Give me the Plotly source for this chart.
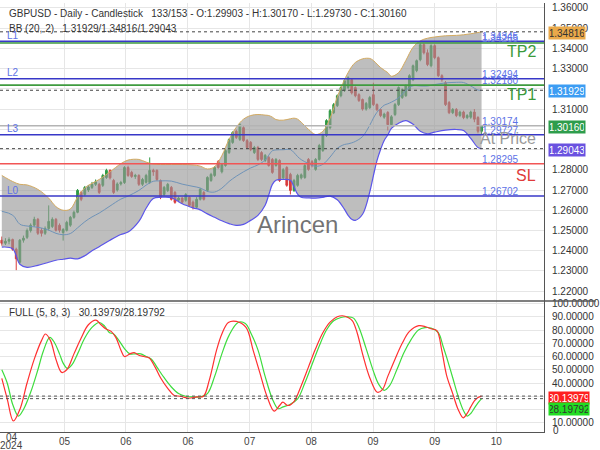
import plotly.graph_objects as go
from plotly.subplots import make_subplots

NARROW = "Liberation Sans Narrow, Arial Narrow, Liberation Sans, Arial, sans-serif"

# ---------------- candle data (daily GBPUSD) ----------------
bar_index = list(range(134))
opens = [1.2452, 1.2437, 1.2447, 1.2455, 1.2407, 1.2343, 1.2452, 1.2466, 1.2500, 1.2526,
         1.2555, 1.2501, 1.2486, 1.2510, 1.2520, 1.2555, 1.2526, 1.2490, 1.2501, 1.2526,
         1.2565, 1.2590, 1.2688, 1.2678, 1.2700, 1.2713, 1.2728, 1.2728, 1.2723, 1.2762,
         1.2797, 1.2747, 1.2700, 1.2730, 1.2737, 1.2811, 1.2787, 1.2767, 1.2772, 1.2728,
         1.2738, 1.2737, 1.2797, 1.2797, 1.2747, 1.2678, 1.2698, 1.2713, 1.2688, 1.2650,
         1.2660, 1.2649, 1.2664, 1.2640, 1.2615, 1.2654, 1.2688, 1.2698, 1.2747, 1.2772,
         1.2840, 1.2790, 1.2821, 1.2885, 1.2935, 1.2990, 1.2950, 1.3008, 1.2944, 1.2935,
         1.2885, 1.2910, 1.2885, 1.2846, 1.2861, 1.2851, 1.2821, 1.2846, 1.2760, 1.2811,
         1.2777, 1.2698, 1.2723, 1.2760, 1.2762, 1.2851, 1.2840, 1.2802, 1.2851, 1.2895,
         1.2970, 1.3008, 1.3082, 1.3117, 1.3166, 1.3191, 1.3206, 1.3245, 1.3206, 1.3171,
         1.3147, 1.3100, 1.3107, 1.3171, 1.3122, 1.3097, 1.3060, 1.3083, 1.3023, 1.3073,
         1.3122, 1.3157, 1.3166, 1.3196, 1.3245, 1.3290, 1.3344, 1.3418, 1.3378, 1.3314,
         1.3413, 1.3354, 1.3265, 1.3230, 1.3132, 1.3082, 1.3098, 1.3068, 1.3085, 1.3058,
         1.3060, 1.3085, 1.3058, 1.29903]
highs = [1.2470, 1.2462, 1.2466, 1.2460, 1.2415, 1.2458, 1.2475, 1.2510, 1.2535, 1.2568,
         1.2562, 1.2512, 1.2520, 1.2624, 1.2565, 1.2562, 1.2535, 1.2512, 1.2548, 1.2572,
         1.2598, 1.2705, 1.2695, 1.2720, 1.2725, 1.2740, 1.2752, 1.2735, 1.2780, 1.2805,
         1.2802, 1.2755, 1.2738, 1.2745, 1.2818, 1.2820, 1.2795, 1.2780, 1.2778, 1.2760,
         1.2780, 1.2861, 1.2805, 1.2802, 1.2752, 1.2720, 1.2735, 1.2720, 1.2695, 1.2668,
         1.2665, 1.2685, 1.2670, 1.2648, 1.2665, 1.2710, 1.2695, 1.2768, 1.2785, 1.2818,
         1.2848, 1.2832, 1.2902, 1.2955, 1.2990, 1.2998, 1.3030, 1.3018, 1.2952, 1.2942,
         1.2918, 1.2918, 1.2892, 1.2878, 1.2868, 1.2858, 1.2858, 1.2852, 1.2808, 1.2818,
         1.2785, 1.2755, 1.2780, 1.2782, 1.2828, 1.2858, 1.2848, 1.2858, 1.2928, 1.2978,
         1.3050, 1.3100, 1.3130, 1.3172, 1.3212, 1.3248, 1.3262, 1.3252, 1.3212, 1.3178,
         1.3152, 1.3135, 1.3165, 1.3230, 1.3128, 1.3102, 1.3082, 1.3090, 1.3070, 1.3130,
         1.3212, 1.3202, 1.3222, 1.3272, 1.3320, 1.3345, 1.3425, 1.3425, 1.3395, 1.3420,
         1.3420, 1.3360, 1.3272, 1.3238, 1.3140, 1.3105, 1.3105, 1.3092, 1.3092, 1.3075,
         1.3092, 1.3100, 1.3065, 1.30170]
lows = [1.2425, 1.2428, 1.2432, 1.2400, 1.2304, 1.2335, 1.2440, 1.2458, 1.2490, 1.2518,
        1.2478, 1.2470, 1.2478, 1.2500, 1.2512, 1.2495, 1.2490, 1.2450, 1.2495, 1.2518,
        1.2558, 1.2585, 1.2645, 1.2670, 1.2690, 1.2705, 1.2720, 1.2680, 1.2715, 1.2755,
        1.2752, 1.2680, 1.2692, 1.2722, 1.2730, 1.2765, 1.2760, 1.2755, 1.2720, 1.2720,
        1.2732, 1.2730, 1.2770, 1.2745, 1.2655, 1.2670, 1.2690, 1.2648, 1.2632, 1.2640,
        1.2632, 1.2642, 1.2618, 1.2604, 1.2610, 1.2648, 1.2648, 1.2690, 1.2740, 1.2765,
        1.2805, 1.2782, 1.2815, 1.2878, 1.2928, 1.2952, 1.2942, 1.2938, 1.2902, 1.2892,
        1.2878, 1.2843, 1.2843, 1.2838, 1.2815, 1.2780, 1.2815, 1.2740, 1.2752, 1.2716,
        1.2678, 1.2690, 1.2716, 1.2752, 1.2755, 1.2795, 1.2812, 1.2795, 1.2845, 1.2888,
        1.2962, 1.3000, 1.3075, 1.3110, 1.3158, 1.3185, 1.3200, 1.3172, 1.3158, 1.3135,
        1.3092, 1.3092, 1.3100, 1.3115, 1.3090, 1.3060, 1.3052, 1.2994, 1.3015, 1.3065,
        1.3115, 1.3150, 1.3160, 1.3190, 1.3238, 1.3282, 1.3336, 1.3370, 1.3312, 1.3306,
        1.3346, 1.3258, 1.3235, 1.3115, 1.3075, 1.3075, 1.3060, 1.3060, 1.3050, 1.3050,
        1.3052, 1.3035, 1.2980, 1.29730]
closes = [1.2437, 1.2447, 1.2455, 1.2407, 1.2360, 1.2452, 1.2462, 1.2500, 1.2526, 1.2555,
          1.2486, 1.2486, 1.2510, 1.2545, 1.2555, 1.2501, 1.2501, 1.2505, 1.2540, 1.2565,
          1.2590, 1.2698, 1.2654, 1.2713, 1.2715, 1.2728, 1.2740, 1.2688, 1.2772, 1.2797,
          1.2760, 1.2688, 1.2730, 1.2737, 1.2811, 1.2772, 1.2767, 1.2772, 1.2728, 1.2752,
          1.2772, 1.2797, 1.2790, 1.2752, 1.2664, 1.2713, 1.2728, 1.2654, 1.2639, 1.2660,
          1.2640, 1.2678, 1.2624, 1.2615, 1.2654, 1.2703, 1.2654, 1.2762, 1.2777, 1.2811,
          1.2811, 1.2826, 1.2895, 1.2949, 1.2984, 1.2960, 1.3023, 1.2944, 1.2910, 1.2900,
          1.2910, 1.2851, 1.2851, 1.2871, 1.2821, 1.2787, 1.2851, 1.2747, 1.2800, 1.2723,
          1.2698, 1.2747, 1.2772, 1.2775, 1.2821, 1.2802, 1.2820, 1.2851, 1.2920, 1.2970,
          1.3043, 1.3092, 1.3122, 1.3166, 1.3206, 1.3240, 1.3255, 1.3180, 1.3166, 1.3142,
          1.3100, 1.3128, 1.3157, 1.3122, 1.3097, 1.3068, 1.3075, 1.3023, 1.3062, 1.3122,
          1.3206, 1.3196, 1.3216, 1.3265, 1.3314, 1.3339, 1.3418, 1.3378, 1.3320, 1.3413,
          1.3354, 1.3265, 1.3245, 1.3122, 1.3082, 1.3098, 1.3068, 1.3085, 1.3058, 1.3068,
          1.3085, 1.3050, 1.2990, 1.30160]

# ---------------- Bollinger Bands (20, 2) ----------------
bb_index = [0, 3, 5, 7, 10, 13, 15, 17, 19, 21, 23, 25, 27, 30, 33, 35, 38, 40, 42, 44,
            47, 50, 53, 55, 57, 59, 61, 63, 65, 67, 69, 71, 73, 74, 75, 76, 78, 80, 81, 82,
            83, 85, 87, 89, 91, 93, 95, 96, 97, 98, 100, 102, 103, 104, 105, 106, 107, 108,
            110, 112, 114, 116, 118, 120, 123, 126, 128, 130, 132, 133]
bb_upper = [1.2772, 1.2742, 1.2728, 1.2725, 1.2703, 1.2660, 1.2618, 1.2600, 1.2606, 1.2665,
            1.2710, 1.2733, 1.2752, 1.2790, 1.2830, 1.2848, 1.2851, 1.2838, 1.2828, 1.2826,
            1.2826, 1.2826, 1.2824, 1.2818, 1.2804, 1.2815, 1.2870, 1.2950, 1.3010, 1.3050,
            1.3068, 1.3073, 1.3070, 1.3068, 1.3060, 1.3048, 1.3045, 1.3052, 1.3055, 1.3050,
            1.3035, 1.3000, 1.2974, 1.2990, 1.3055, 1.3160, 1.3245, 1.3280, 1.3310, 1.3330,
            1.3348, 1.3350, 1.3340, 1.3322, 1.3305, 1.3292, 1.3280, 1.3262, 1.3280, 1.3340,
            1.3405, 1.3437, 1.3450, 1.3456, 1.3462, 1.3464, 1.3467, 1.3472, 1.3478, 1.34816]
bb_lower = [1.2418, 1.2410, 1.2333, 1.2318, 1.2328, 1.2343, 1.2353, 1.2358, 1.2363, 1.2360,
            1.2375, 1.2400, 1.2420, 1.2452, 1.2480, 1.2492, 1.2545, 1.2610, 1.2658, 1.2664,
            1.2662, 1.2632, 1.2612, 1.2602, 1.2582, 1.2565, 1.2548, 1.2534, 1.2525, 1.2530,
            1.2550, 1.2575, 1.2625, 1.2675, 1.2728, 1.2748, 1.2752, 1.2748, 1.2715, 1.2680,
            1.2664, 1.2661, 1.2660, 1.2664, 1.2670, 1.2652, 1.2604, 1.2575, 1.2555, 1.2550,
            1.2580, 1.2690, 1.2770, 1.2845, 1.2900, 1.2945, 1.2972, 1.3005, 1.3030, 1.3043,
            1.3025, 1.2990, 1.2978, 1.2986, 1.2996, 1.2999, 1.2994, 1.2955, 1.2910, 1.29043]
bb_mid = [1.2595, 1.2576, 1.2531, 1.2522, 1.2516, 1.2502, 1.2486, 1.2479, 1.2485, 1.2513,
          1.2543, 1.2567, 1.2586, 1.2621, 1.2655, 1.2670, 1.2698, 1.2724, 1.2743, 1.2745,
          1.2744, 1.2729, 1.2718, 1.2710, 1.2693, 1.2690, 1.2709, 1.2742, 1.2768, 1.2790,
          1.2809, 1.2824, 1.2848, 1.2872, 1.2894, 1.2898, 1.2899, 1.2900, 1.2885, 1.2865,
          1.2850, 1.2831, 1.2817, 1.2827, 1.2863, 1.2906, 1.2925, 1.2928, 1.2933, 1.2940,
          1.2964, 1.3020, 1.3055, 1.3084, 1.3103, 1.3119, 1.3126, 1.3134, 1.3155, 1.3192,
          1.3215, 1.3214, 1.3214, 1.3221, 1.3229, 1.3232, 1.3231, 1.3214, 1.3194, 1.31929]

# ---------------- Full stochastic (5, 8, 3) ----------------
stoch_k_index = [0, 1.5, 3.2, 5, 7, 9, 11, 12.1, 13.5, 15, 16.6, 18, 20, 22, 24, 26.1, 27.5, 28.9,
                 30.3, 31.6, 33, 34, 35.5, 36.7, 38, 39.4, 40.8, 42.5, 44, 46, 47.7, 49.5, 51.8,
                 54, 55.9, 57.5, 59.5, 61, 62.8, 65, 67.7, 69.7, 71.5, 73.5, 75.5, 77, 77.9, 79.3,
                 81, 83, 85, 87, 89, 91, 93, 94.4, 96, 97.2, 98.5, 100, 102, 104.1, 105.5, 107,
                 109, 111, 113, 115.6, 117.5, 119, 120.6, 122, 123.3, 125, 126.5, 127.9, 129,
                 130, 131, 132, 133]
stoch_k = [43.5, 28, 11.3, 20, 40, 58, 72, 77, 72, 58, 48, 50, 62, 74, 84, 87.5, 84, 80.8,
           79, 74.5, 65, 60, 62, 63, 61, 60, 59, 52, 44, 36, 30.8, 30, 28.5,
           29.5, 30, 42, 64.5, 77, 85.7, 86.5, 82, 64.5, 48, 30, 18.8, 23, 25.5, 23,
           26, 38, 52, 66, 78, 86, 90, 90.8, 89.5, 87, 78, 62, 44, 33, 35, 45,
           58, 70, 79, 83.3, 82.5, 81, 79.5, 64, 45.8, 32, 20, 13.7, 17,
           22, 26.5, 29, 30.13979]
stoch_d_index = [0, 1.5, 3, 4.6, 6, 8, 10, 11.5, 13.3, 14.5, 16, 17, 18.2, 19.5, 21, 23, 25, 27,
                 28.5, 29.8, 31, 32.5, 34, 35.5, 37, 38.5, 40, 41.5, 43, 45, 47, 49, 51, 53, 55,
                 57, 59, 61, 63, 65.5, 67.5, 69, 71, 73, 75, 76.6, 78, 80, 82, 84, 86, 88, 90,
                 92, 94, 95.8, 97.5, 99, 101, 103, 104.5, 106, 107.5, 109.5, 111.5, 113.5,
                 115.5, 117.3, 119, 121, 122.3, 123.3, 125, 126.5, 128, 129, 130, 131, 132, 133]
stoch_d = [50, 40, 24, 15, 20, 33, 50, 64, 74.5, 71, 62, 55, 51, 54, 62, 74, 82, 85.7,
           83, 78.2, 77, 72, 66, 62, 62, 62, 60, 58, 52, 44, 37, 32, 30, 29.5, 29.5,
           32, 45, 62, 76, 85.7, 85, 78, 65, 45, 28, 20.6, 22, 24, 28, 40, 54, 68, 80,
           87, 89.5, 90, 89, 82, 66, 49, 39, 34.5, 38, 50, 63, 73,
           80, 81.8, 81.5, 78, 68, 59.5, 44, 30, 19, 15, 17, 21, 25, 28.19792]

# ---------------- axis ticks ----------------
x_tick_pos = [17.4, 34.4, 51.6, 68.7, 85.8, 102.9, 120.0, 137.1]
x_tick_text = ["05", "06", "06", "07", "08", "09", "09", "10"]
price_ticks = [1.22, 1.23, 1.24, 1.25, 1.26, 1.27, 1.28, 1.29, 1.30, 1.31, 1.32, 1.33, 1.34, 1.35, 1.36]
# labels hidden behind the value boxes in the reference are left blank
price_tick_text = ["1.22000", "1.23000", "1.24000", "1.25000", "1.26000", "1.27000", "1.28000", "",
                   "", "1.31000", "", "1.33000", "1.34000", "1.35000", "1.36000"]
osc_ticks = [10, 20, 30, 40, 50, 60, 70, 80, 90, 100]
osc_tick_text = ["10.00000", "", "", "40.00000", "50.00000", "60.00000", "70.00000", "80.00000",
                 "90.00000", "100.00000"]

# ---------------- horizontal levels ----------------
level_names = ["L1", "TP2", "L2", "TP1", "At Price", "L3", "SL", "L0"]
level_values = [1.34345, 1.34265, 1.32494, 1.32180, 1.30174, 1.29727, 1.28295, 1.26702]
level_colors = ["#3838c8", "#3f9b3f", "#3838c8", "#3f9b3f", "#b4b4b4", "#3838c8", "#f25555", "#3838c8"]
bb_last = [1.34816, 1.31929, 1.29043]  # upper, middle, lower
bb_box_colors = ["#eaa94a", "#3d9df3", "#6a52e0"]
last_close = 1.30160
stoch_last = [30.13979, 28.19792]

PW, PH = 548, 432  # plot area in px


def fx(xpx):
    return xpx / PW


def fy(ypx):
    return (PH - ypx) / PH


fig = make_subplots(rows=2, cols=1, shared_xaxes=True, vertical_spacing=0)

fig.add_trace(go.Scatter(x=bb_index, y=bb_upper, mode="lines", line=dict(color="#d3aa60", width=1, shape="spline"),
                         hoverinfo="skip", showlegend=False), row=1, col=1)
fig.add_trace(go.Scatter(x=bb_index, y=bb_lower, mode="lines", line=dict(color="#5b55ea", width=1.2, shape="spline"),
                         fill="tonexty", fillcolor="rgba(150,150,150,0.62)", hoverinfo="skip", showlegend=False),
              row=1, col=1)
fig.add_trace(go.Scatter(x=bb_index, y=bb_mid, mode="lines", line=dict(color="#6f93b8", width=1, shape="spline"),
                         hoverinfo="skip", showlegend=False), row=1, col=1)
fig.add_trace(go.Candlestick(x=bar_index, open=opens, high=highs, low=lows, close=closes,
                             increasing=dict(line=dict(color="#2f9a45", width=1), fillcolor="#2f9a45"),
                             decreasing=dict(line=dict(color="#d93c3c", width=1), fillcolor="#d93c3c"),
                             whiskerwidth=0, showlegend=False), row=1, col=1)

fig.add_trace(go.Scatter(x=stoch_d_index, y=stoch_d, mode="lines", line=dict(color="#3ddc3d", width=1.2, shape="spline"),
                         showlegend=False), row=2, col=1)
fig.add_trace(go.Scatter(x=stoch_k_index, y=stoch_k, mode="lines", line=dict(color="#ff3030", width=1.2, shape="spline"),
                         showlegend=False), row=2, col=1)

shapes = []
for v, c in zip(level_values, level_colors):
    shapes.append(dict(type="line", xref="x domain", yref="y", x0=0, x1=1, y0=v, y1=v,
                       line=dict(color=c, width=1.6)))
for v in bb_last:
    shapes.append(dict(type="line", xref="x domain", yref="y", x0=0, x1=1, y0=v, y1=v,
                       line=dict(color="#444", width=1, dash="3px,3px")))
for v in stoch_last:
    shapes.append(dict(type="line", xref="x2 domain", yref="y2", x0=0, x1=1, y0=v, y1=v,
                       line=dict(color="#555", width=1, dash="3px,3px")))
shapes.append(dict(type="line", xref="paper", yref="paper", x0=0, x1=600 / PW, y0=fy(300), y1=fy(300),
                   line=dict(color="#555", width=1.5)))

ann = []
txt = dict(xref="paper", yref="paper", showarrow=False, xanchor="left", yanchor="middle")
ann.append(dict(txt, x=fx(7), y=fy(11),
                text="GBPUSD - Daily - Candlestick   133/153 - O:1.29903 - H:1.30170 - L:1.29730 - C:1.30160",
                font=dict(family=NARROW, size=10, color="#333")))
ann.append(dict(txt, x=fx(7), y=fy(25.5), text="BB (20, 2)   1.31929/1.34816/1.29043",
                font=dict(family=NARROW, size=10, color="#333")))
ann.append(dict(txt, x=fx(7), y=fy(312), text="FULL (5, 8, 3)   30.13979/28.19792",
                font=dict(family=NARROW, size=10, color="#333")))

lab_color = "#5d72e6"
for name, v in zip(level_names, level_values):
    if name.startswith("L"):
        ann.append(dict(xref="paper", yref="y", x=fx(5), y=v, yshift=6, showarrow=False, xanchor="left",
                        yanchor="middle", text=name, font=dict(family=NARROW, size=10, color=lab_color)))
    ann.append(dict(xref="paper", yref="y", x=fx(484), y=v, yshift=4.5, showarrow=False, xanchor="left",
                    yanchor="middle", text=f"{v:.5f}", font=dict(family=NARROW, size=10, color=lab_color)))

big = {"TP2": ("#3a9a3a", -9), "TP1": ("#3a9a3a", -9.5), "At Price": ("#9a9a9a", -13), "SL": ("#e03a3a", -11.5)}
for name, v in zip(level_names, level_values):
    if name in big:
        col, ys = big[name]
        ann.append(dict(xref="paper", yref="y", x=fx(542), y=v, yshift=ys, showarrow=False, xanchor="right",
                        yanchor="middle", text=name, font=dict(family=NARROW, size=16, color=col)))

ann.append(dict(xref="paper", yref="paper", x=fx(300), y=fy(223), showarrow=False, xanchor="center",
                yanchor="middle", text="Arincen",
                font=dict(family="Liberation Sans, Arial, sans-serif", size=24, color="rgba(90,90,90,0.85)")))

box_vals = [bb_last[0], bb_last[1], last_close, bb_last[2]]
box_cols = [bb_box_colors[0], bb_box_colors[1], "#2e9d4c", bb_box_colors[2]]
box_txt = ["#333", "white", "white", "white"]
for v, c, t in zip(box_vals, box_cols, box_txt):
    ann.append(dict(xref="paper", yref="y", x=1, y=v, xshift=4, yshift=-1, showarrow=False, xanchor="left",
                    yanchor="middle", text=f"{v:.5f}", bgcolor=c, width=34, height=10, borderpad=1,
                    font=dict(family=NARROW, size=10, color=t)))
ann.append(dict(xref="paper", yref="y2", x=1, y=stoch_last[0], xshift=4, yshift=-1.6, showarrow=False,
                xanchor="left", yanchor="middle", text=f"{stoch_last[0]:.5f}", bgcolor="#ff2020", width=38,
                height=10, borderpad=1, font=dict(family=NARROW, size=10, color="white")))
ann.append(dict(xref="paper", yref="y2", x=1, y=stoch_last[1], xshift=4, yshift=-10.5, showarrow=False,
                xanchor="left", yanchor="middle", text=f"{stoch_last[1]:.5f}", bgcolor="#22dd22", width=38,
                height=10, borderpad=1, font=dict(family=NARROW, size=10, color="#333")))
ann.append(dict(xref="paper", yref="paper", x=1, y=fy(430), xshift=7, showarrow=False, xanchor="left",
                yanchor="middle", text="0", font=dict(family=NARROW, size=10, color="#333")))
ann.append(dict(xref="paper", yref="paper", x=fx(12), y=fy(438), showarrow=False, xanchor="center",
                yanchor="middle", text="04", font=dict(family=NARROW, size=10, color="#444")))
ann.append(dict(xref="paper", yref="paper", x=fx(12), y=fy(446), showarrow=False, xanchor="center",
                yanchor="middle", text="2024", font=dict(family=NARROW, size=10, color="#444")))

xr = [-0.5, (PW - 1.8) / 3.634]
grid = "#e6e6e6"
fig.update_layout(
    width=600, height=450, margin=dict(l=0, r=600 - PW, t=0, b=450 - PH),
    paper_bgcolor="white", plot_bgcolor="white", showlegend=False,
    shapes=shapes, annotations=ann,
    font=dict(family=NARROW, size=10, color="#333"),
    xaxis=dict(range=xr, tickvals=x_tick_pos, showticklabels=False, showgrid=True, gridcolor=grid,
               zeroline=False, rangeslider=dict(visible=False), showline=False),
    xaxis2=dict(range=xr, tickvals=x_tick_pos, ticktext=x_tick_text, showgrid=True, gridcolor=grid,
                zeroline=False, rangeslider=dict(visible=False), showline=True, linecolor="#555", linewidth=1,
                ticks="", tickfont=dict(family=NARROW, size=10, color="#444")),
    yaxis=dict(domain=[fy(300), 1], range=[1.2152, 1.3624], side="right", tickvals=price_ticks,
               ticktext=price_tick_text, showgrid=True, gridcolor=grid, zeroline=False, showline=True,
               linecolor="#555", linewidth=1, ticks="outside", ticklen=5, tickcolor="rgba(0,0,0,0)",
               tickfont=dict(family=NARROW, size=10, color="#333")),
    yaxis2=dict(domain=[0, fy(300)], range=[3.0, 102.0], side="right", tickvals=osc_ticks,
                ticktext=osc_tick_text, showgrid=True, gridcolor=grid, zeroline=False, showline=True,
                linecolor="#555", linewidth=1, ticks="outside", ticklen=5, tickcolor="rgba(0,0,0,0)",
                tickfont=dict(family=NARROW, size=10, color="#333")),
)

fig.write_html("out.html", config={"displayModeBar": False})
